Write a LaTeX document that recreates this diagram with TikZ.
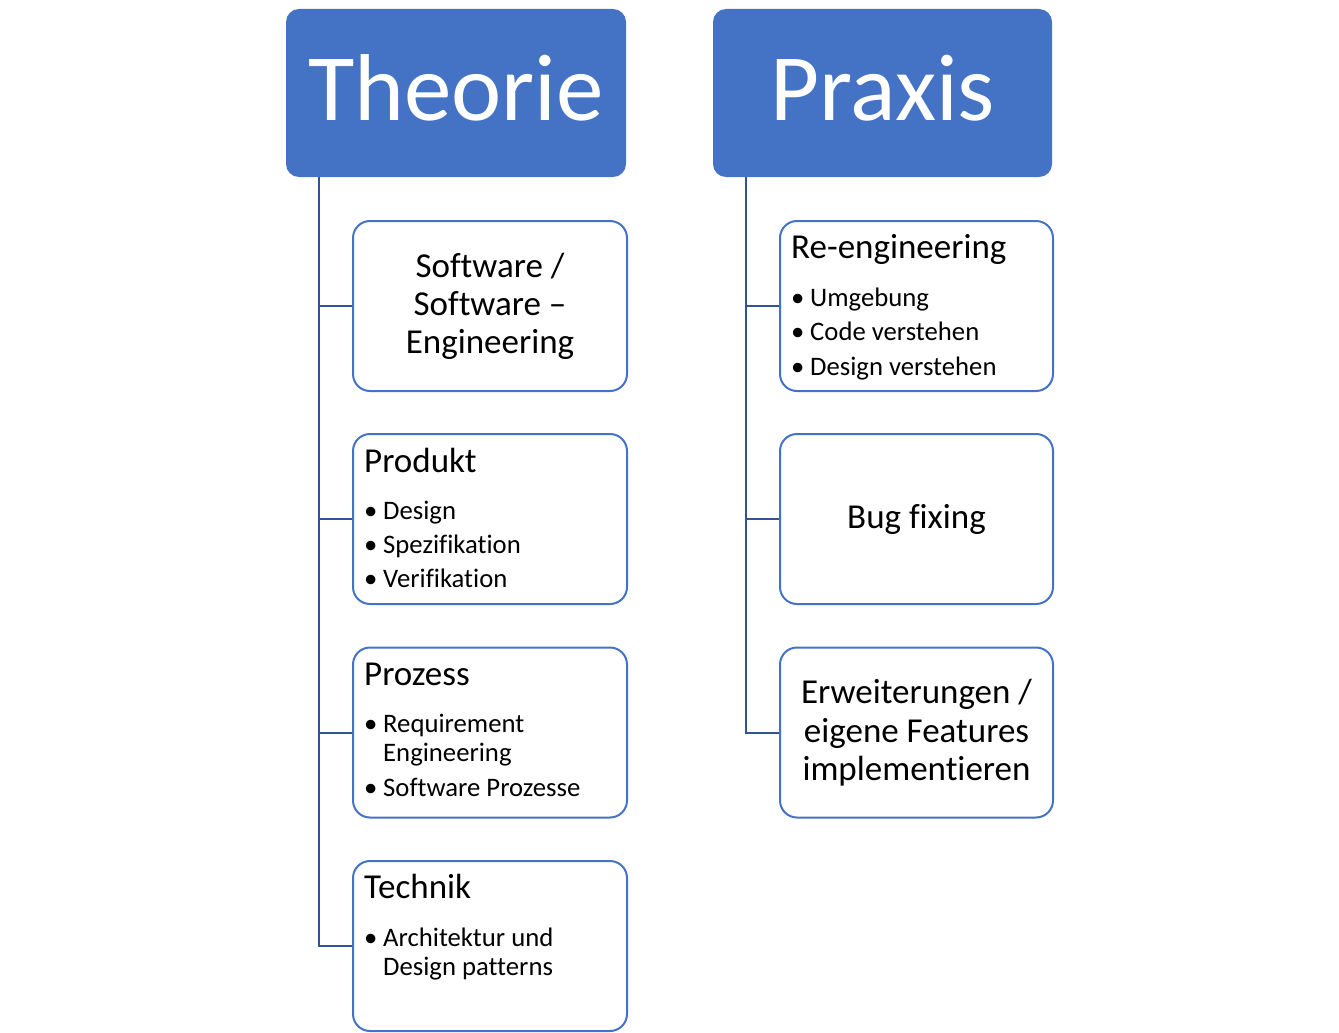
\documentclass[tikz,border=0pt]{standalone}
\usepackage{fontspec}
\setmainfont{Carlito}[Ligatures={NoCommon,NoDiscretionary,NoRare,NoContextual}]
\definecolor{hdrblue}{HTML}{4472C4}
\definecolor{connblue}{HTML}{2F5597}
\tikzset{
  hdr/.style={fill=hdrblue, rounded corners=13pt, inner sep=0pt},
  hdrtext/.style={text=white, font=\fontsize{95}{110}\selectfont, inner sep=0pt, anchor=base},
  boxnode/.style={draw=hdrblue, line width=2pt, fill=white, rounded corners=17pt, inner sep=0pt, minimum height=170pt},
  conn/.style={draw=connblue, line width=2pt},
  ttl/.style={font=\fontsize{35}{38}\selectfont, inner sep=0pt, anchor=base west},
  ctr/.style={font=\fontsize{35}{38.5}\selectfont, inner sep=0pt, anchor=base, align=center},
  bul/.style={font=\fontsize{26.7}{29.5}\selectfont, inner sep=0pt, anchor=base west, align=left},
}
\begin{document}
\begin{tikzpicture}[x=1pt,y=-1pt]
\useasboundingbox (0,0) rectangle (1339,1033);
% headers
\node[hdr, minimum width=340pt, minimum height=168pt] (th) at (456,93) {};
\node[hdr, minimum width=339pt, minimum height=168pt] (pr) at (882.5,93) {};
\node[hdrtext] (tht) at (456,120) {Theorie};
\node[hdrtext] (prt) at (882.5,120) {Praxis};
% left boxes
\node[boxnode, minimum width=274pt] (b1) at (490,306) {};
\node[boxnode, minimum width=274pt] (b2) at (490,519) {};
\node[boxnode, minimum width=274pt] (b3) at (490,732.5) {};
\node[boxnode, minimum width=274pt] (b4) at (490,946) {};
% right boxes
\node[boxnode, minimum width=273pt] (r1) at (916.5,306) {};
\node[boxnode, minimum width=273pt] (r2) at (916.5,519) {};
\node[boxnode, minimum width=273pt] (r3) at (916.5,732.5) {};
% connectors
\coordinate (tl) at ([xshift=33pt]th.south west);
\coordinate (pl) at ([xshift=33pt]pr.south west);
\draw[conn] (tl) |- (b4.west);
\foreach \b in {b1,b2,b3} \draw[conn] (tl |- \b.west) -- (\b.west);
\draw[conn] (pl) |- (r3.west);
\foreach \b in {r1,r2} \draw[conn] (pl |- \b.west) -- (\b.west);
% box 1 text
\node[ctr] (t1a) at (490,277) {Software /};
\node[ctr] (t1b) at (490,315) {Software –};
\node[ctr] (t1c) at (490,353) {Engineering};
% box 2
\node[ttl] (t2) at (364,472) {Produkt};
\node[bul] (d2a) at (364,519) {•};
\node[bul] (t2a) at (383,519) {Design};
\node[bul] (d2b) at (364,553) {•};
\node[bul] (t2b) at (383,553) {Spezifikation};
\node[bul] (d2c) at (364,587.5) {•};
\node[bul] (t2c) at (383,587.5) {Verifikation};
% box 3
\node[ttl] (t3) at (364,685) {Prozess};
\node[bul] (d3a) at (364,732) {•};
\node[bul] (t3a) at (383,732) {Requirement};
\node[bul] (t3b) at (383,761.5) {Engineering};
\node[bul] (d3c) at (364,796.5) {•};
\node[bul] (t3c) at (383,796.5) {Software Prozesse};
% box 4
\node[ttl] (t4) at (364,898) {Technik};
\node[bul] (d4a) at (364,946) {•};
\node[bul] (t4a) at (383,946) {Architektur und};
\node[bul] (t4b) at (383,975.5) {Design patterns};
% right box 1
\node[ttl] (s1) at (791,258) {Re-engineering};
\node[bul] (e1a) at (791,306) {•};
\node[bul] (s1a) at (810,306) {Umgebung};
\node[bul] (e1b) at (791,340) {•};
\node[bul] (s1b) at (810,340) {Code verstehen};
\node[bul] (e1c) at (791,375) {•};
\node[bul] (s1c) at (810,375) {Design verstehen};
% right box 2
\node[ctr] (s2) at (916.5,528) {Bug fixing};
% right box 3
\node[ctr] (s3a) at (916.5,703) {Erweiterungen /};
\node[ctr] (s3b) at (916.5,742) {eigene Features};
\node[ctr] (s3c) at (916.5,780) {implementieren};
\end{tikzpicture}
\end{document}
